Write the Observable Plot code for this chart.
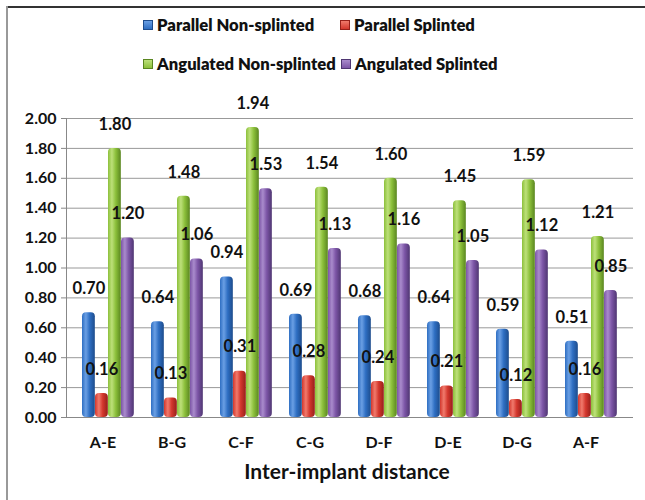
<!DOCTYPE html>
<html>
<head>
<meta charset="utf-8">
<script src="https://cdn.jsdelivr.net/npm/d3@7"></script>
<script src="https://cdn.jsdelivr.net/npm/@observablehq/plot@0.6"></script>
<style>
  html, body { margin: 0; padding: 0; background: #fff; }
  #wrap { position: relative; width: 645px; height: 500px; overflow: hidden; font-family: Lato, "Open Sans", sans-serif; font-weight: bold; }
  #frameTop { position: absolute; left: 7px; top: 6px; width: 640px; height: 2px; background: #333; }
  #frameLeft { position: absolute; left: 6px; top: 6px; width: 2px; height: 500px; background: #999; }
  .leg { position: absolute; font-size: 16.6px; color: #111; white-space: nowrap; line-height: 20px; font-weight: 800; }
  .sw { position: absolute; width: 10px; height: 10px; }
  #chart { position: absolute; left: 0; top: 85px; }
</style>
</head>
<body>
<div id="wrap">
  <div id="frameTop"></div>
  <div id="frameLeft"></div>
  <div id="legend"></div>
  <div id="chart"></div>
</div>
<svg width="0" height="0" style="position:absolute">
  <defs id="grads"></defs>
</svg>
<script>
const categories = ["A-E", "B-G", "C-F", "C-G", "D-F", "D-E", "D-G", "A-F"];
const seriesNames = ["Parallel Non-splinted", "Parallel Splinted", "Angulated Non-splinted", "Angulated Splinted"];
const parallelNonSplinted = [0.70, 0.64, 0.94, 0.69, 0.68, 0.64, 0.59, 0.51];
const parallelSplinted = [0.16, 0.13, 0.31, 0.28, 0.24, 0.21, 0.12, 0.16];
const angulatedNonSplinted = [1.80, 1.48, 1.94, 1.54, 1.60, 1.45, 1.59, 1.21];
const angulatedSplinted = [1.20, 1.06, 1.53, 1.13, 1.16, 1.05, 1.12, 0.85];
const yTicks = [0, 0.2, 0.4, 0.6, 0.8, 1.0, 1.2, 1.4, 1.6, 1.8, 2.0];
const xTitle = "Inter-implant distance";

const seriesValues = [parallelNonSplinted, parallelSplinted, angulatedNonSplinted, angulatedSplinted];
const colors = [
  {id: "gBlue", dark: "#1d4c8c", light: "#6a9fe4", base: "#2e6ec2"},
  {id: "gRed", dark: "#96201a", light: "#f07a6c", base: "#d3372d"},
  {id: "gGreen", dark: "#5a8620", light: "#bde07a", base: "#8cc03b"},
  {id: "gPurple", dark: "#4f3672", light: "#a98bcc", base: "#7c55a6"}
];

// gradients
const defs = document.getElementById("grads");
const NS = "http://www.w3.org/2000/svg";
colors.forEach(c => {
  const g = document.createElementNS(NS, "linearGradient");
  g.setAttribute("id", c.id);
  g.setAttribute("x1", "0"); g.setAttribute("x2", "1");
  g.setAttribute("y1", "0"); g.setAttribute("y2", "0");
  [[0, c.base], [0.3, c.light], [0.6, c.base], [1, c.dark]].forEach(([o, col]) => {
    const s = document.createElementNS(NS, "stop");
    s.setAttribute("offset", o);
    s.setAttribute("stop-color", col);
    g.appendChild(s);
  });
  defs.appendChild(g);
});

// legend
const legend = document.getElementById("legend");
const legPos = [[143, 25], [340, 25], [143, 64], [341, 64]];
seriesNames.forEach((name, i) => {
  const [x, y] = legPos[i];
  const sw = document.createElement("div");
  sw.className = "sw";
  sw.style.left = x + "px"; sw.style.top = (y - 5) + "px";
  sw.style.background = `linear-gradient(${colors[i].light}, ${colors[i].base})`;
  sw.style.border = `1px solid ${colors[i].dark}`;
  sw.style.boxSizing = "border-box";
  legend.appendChild(sw);
  const t = document.createElement("div");
  t.className = "leg";
  t.textContent = name;
  t.style.left = (x + 14) + "px"; t.style.top = (y - 10) + "px";
  legend.appendChild(t);
});

// tidy data
const data = [];
seriesNames.forEach((s, si) => categories.forEach((c, ci) => data.push({series: s, si, cat: c, value: seriesValues[si][ci]})));

const W = 645, H = 415, mL = 66, mR = 24;
const step = (W - mL - mR) / categories.length;
const barW = 13.2;
const offsets = [14, 27, 40, 53]; // left edge within band

const marks = [
  Plot.gridY(yTicks, {stroke: "#999", strokeOpacity: 1, insetRight: -12}),
  Plot.ruleY([0], {stroke: "#888", insetRight: -12}),
  Plot.frame({anchor: "left", stroke: "#888"}),
  Plot.axisY({ticks: yTicks, tickFormat: d => d.toFixed(2), tickSize: 5, tickPadding: 5, fontSize: 16, fontWeight: "bold", label: null, stroke: "#888"}),
  Plot.axisX({tickSize: 0, tickPadding: 19, fontSize: 16, fontWeight: "bold", label: null})
];
seriesNames.forEach((s, si) => {
  const sub = data.filter(d => d.si === si);
  marks.push(Plot.barY(sub, {
    x: "cat", y: "value",
    fill: `url(#${colors[si].id})`,
    insetLeft: offsets[si], insetRight: step - offsets[si] - barW,
    rx: 4
  }));
});
seriesNames.forEach((s, si) => {
  const sub = data.filter(d => d.si === si);
  marks.push(Plot.text(sub, {
    x: "cat", y: "value", text: d => d.value.toFixed(2),
    dx: offsets[si] + barW / 2 - step / 2, dy: -24,
    fontSize: 16.5, fontWeight: "bold", fill: "#111"
  }));
});
marks.push(Plot.text([xTitle], {frameAnchor: "bottom", dy: 61, dx: 3, fontSize: 21, fontWeight: "bold", fill: "#111"}));

const plot = Plot.plot({
  width: W, height: H,
  marginLeft: mL, marginRight: mR, marginTop: 33, marginBottom: 83,
  style: {fontFamily: "Lato, 'Open Sans', sans-serif", color: "#111", background: "transparent"},
  x: {domain: categories, padding: 0, axis: null},
  y: {domain: [0, 2], axis: null},
  marks
});
document.getElementById("chart").appendChild(plot);
</script>
</body>
</html>
